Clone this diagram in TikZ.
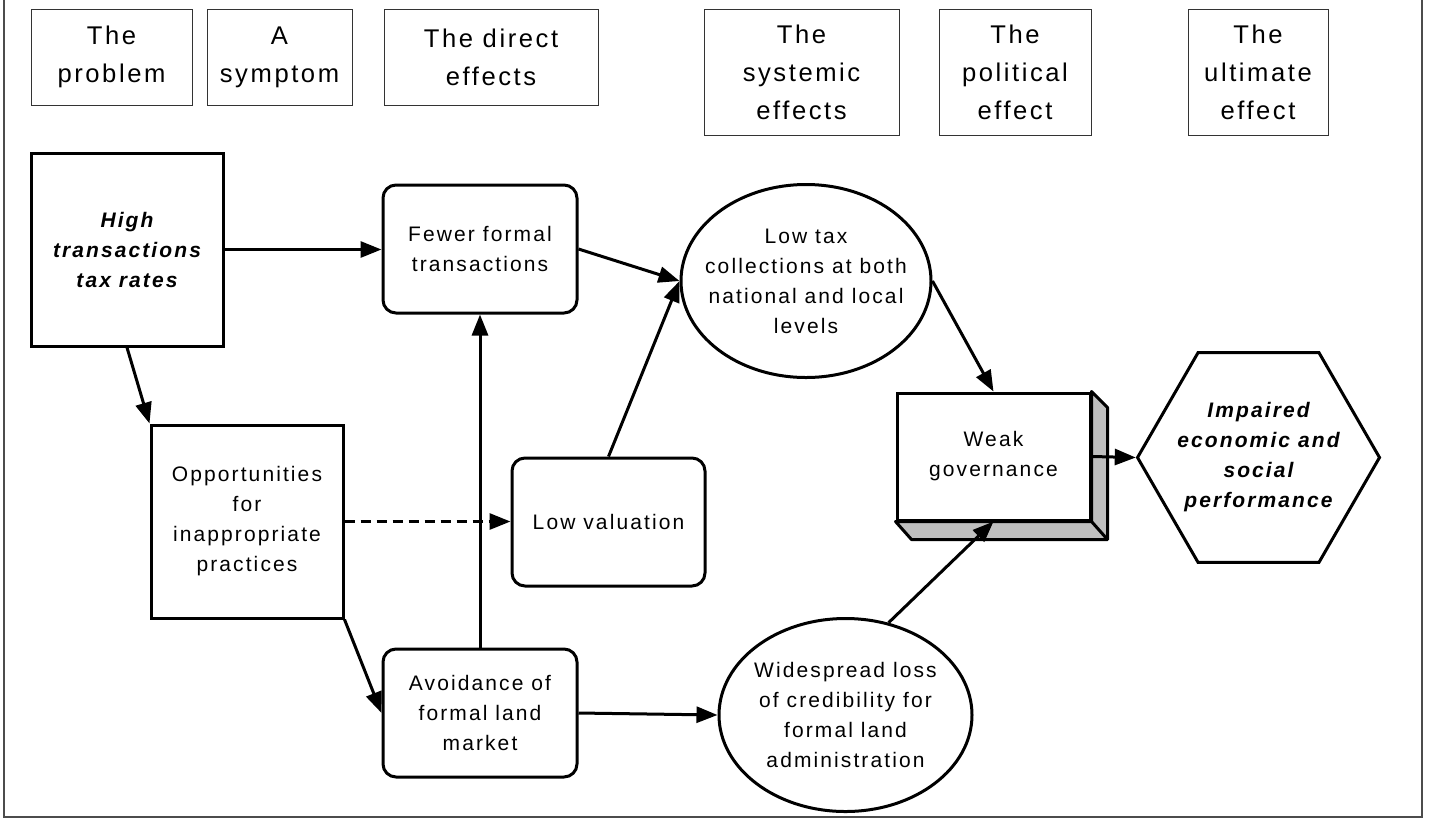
\documentclass[tikz,border=0pt]{standalone}
\usepackage{fontspec}
\setmainfont{Liberation Sans}
\newfontfamily\lsans{Liberation Sans}[LetterSpace=10]
\usetikzlibrary{arrows.meta,shapes.geometric,calc}
\newcommand\hdrfnt{\lsans\fontsize{25.6pt}{38pt}\selectfont}
\newcommand\mainfnt{\lsans\fontsize{21pt}{30pt}\selectfont}
\begin{document}
\begin{tikzpicture}[x=1pt,y=-1pt,
  hdr/.style={draw=black!80, line width=1pt, inner sep=0pt, align=center, font=\hdrfnt},
  sq/.style={draw, line width=3pt, inner sep=0pt, minimum width=192pt, minimum height=193pt, align=center, font=\mainfnt},
  rbox/.style={draw, line width=3pt, rounded corners=13pt, inner sep=0pt, minimum width=194pt, minimum height=128pt, align=center, font=\mainfnt},
  ell/.style={draw, ellipse, line width=3pt, inner sep=0pt, minimum width=250pt, minimum height=193pt},
  txt/.style={inner sep=0pt, align=center, font=\mainfnt},
  bi/.style={font=\mainfnt\bfseries\itshape},
  arr/.style={line width=3pt, -{Triangle[length=21pt,width=16pt]}},
  outerframe/.style={draw=black!70, line width=1.5pt}
]
\useasboundingbox (0,0) rectangle (1431,823);
\draw[outerframe] (4,0) -- (4,817) -- (1422,817) -- (1422,0);

% header boxes
\node[hdr, minimum width=161pt, minimum height=96pt] (h1) at (111.5,57) {The\\problem};
\node[hdr, minimum width=145pt, minimum height=96pt] (h2) at (279.5,57) {A\\symptom};
\node[hdr, minimum width=214pt, minimum height=96pt] (h3) at (491,57) {The direct\\effects};
\node[hdr, minimum width=195pt, minimum height=126pt] (h4) at (801.5,72) {The\\systemic\\effects};
\node[hdr, minimum width=152pt, minimum height=126pt] (h5) at (1015,72) {The\\political\\effect};
\node[hdr, minimum width=140pt, minimum height=126pt] (h6) at (1258,72) {The\\ultimate\\effect};

% main nodes
\node[sq, bi] (high) at (127,249.5) {High\\transactions\\tax rates};
\node[rbox] (fewer) at (480,249) {Fewer formal\\transactions};
\node[ell] (lowtax) at (806,281) {};
\node[txt] (lowtaxt) at (lowtax) {Low tax\\collections at both\\national and local\\levels};
\node[sq] (opp) at (247,521.5) {Opportunities\\for\\inappropriate\\practices};
\node[rbox, minimum width=193pt] (lowval) at (608.5,522) {Low valuation};
\node[rbox] (avoid) at (480,713) {Avoidance of\\formal land\\market};
\node[ell, minimum width=253pt] (wsp) at (845.5,715) {};
\node[txt] (wspt) at (wsp) {Widespread loss\\of credibility for\\formal land\\administration};

% weak governance (3D box)
\node[draw, line width=3pt, inner sep=0pt, minimum width=193pt, minimum height=127pt, align=center, font=\mainfnt, fill=white] (weak) at (993.5,456.5) {Weak\\governance};
\draw[line width=3pt, fill=black!25, line join=round]
  (weak.north east) -- ($(weak.north east)+(16,16)$) -- ($(weak.south east)+(16,18)$)
  -- ($(weak.south west)+(16,18)$) -- (weak.south west) -- (weak.south east) -- cycle;
\draw[line width=3pt] (weak.south east) -- ($(weak.south east)+(16,18)$);

% hexagon
\node[draw, line width=3pt, regular polygon, regular polygon sides=6, minimum size=242pt, inner sep=0pt] (hex) at (1258.5,457.5) {};
\node[txt, bi] (hext) at (hex) {Impaired\\economic and\\social\\performance};

% connectors
\draw[arr] (high.east) -- (high.east -| fewer.west);
\draw[arr] (high.south) -- (opp.north west);
\draw[arr] (opp.south east) -- (avoid.west);
\draw[arr, dash pattern=on 10pt off 6pt] (opp.east) -- (opp.east -| lowval.west);
\draw[arr] (avoid.north) -- (fewer.south);
\draw[arr] (fewer.east) -- (lowtax.west);
\draw[arr] (lowval.north) -- (lowtax.west);
\draw[arr] (lowtax.east) -- (weak.north);
\draw[arr] (weak.east) -- (hex.west);
\draw[arr] (avoid.east) -- (wsp.west);
\draw[arr] (wsp.65) -- (weak.south);
\end{tikzpicture}
\end{document}
